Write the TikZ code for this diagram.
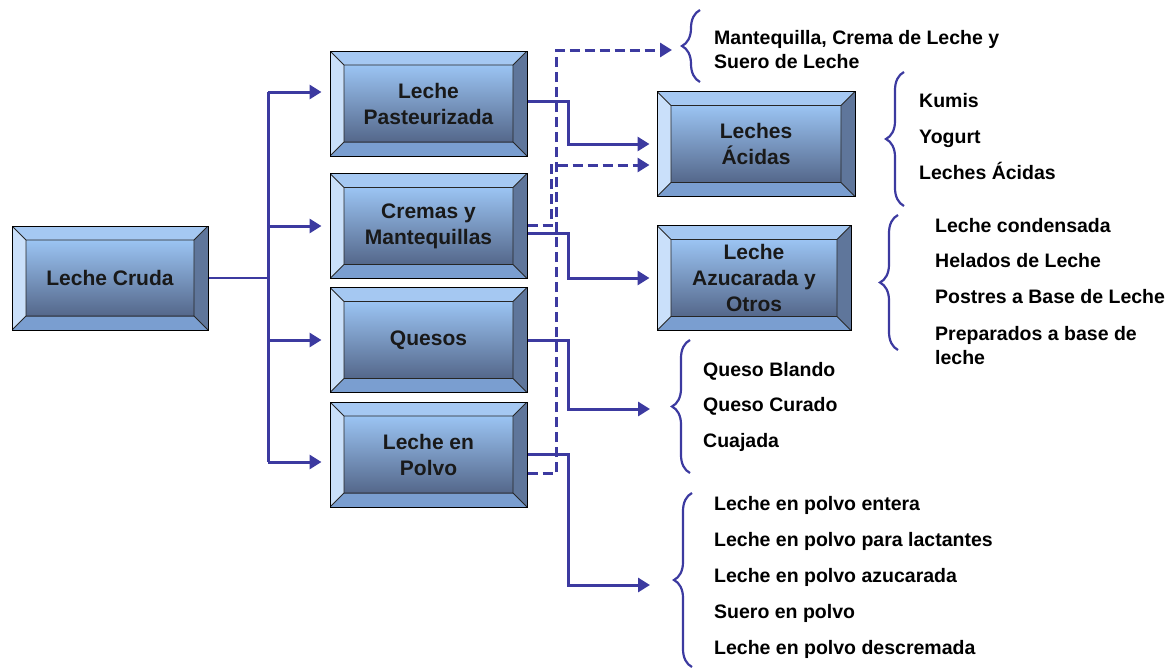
\documentclass[tikz,border=0pt]{standalone}
\usepackage{fontspec}
\setmainfont{Liberation Sans}
\usetikzlibrary{arrows.meta,calc,decorations.pathreplacing}

\definecolor{linec}{RGB}{60,58,160}
\definecolor{bvtop}{RGB}{165,200,242}
\definecolor{bvleft}{RGB}{202,224,250}
\definecolor{bvright}{RGB}{95,118,155}
\definecolor{bvbottom}{RGB}{122,158,208}
\definecolor{boxtop}{RGB}{155,196,243}
\definecolor{boxbot}{RGB}{84,103,138}
\newcommand{\boxfont}{\fontsize{21}{26}\selectfont\bfseries}
\newcommand{\itemfont}{\fontsize{19.5}{24}\selectfont\bfseries}

\begin{document}
\begin{tikzpicture}[x=1pt, y=-1pt,
  bevel/.style={draw=black, line width=1pt, minimum width=197pt, minimum height=105pt,
    align=center, font=\boxfont, text=black!90,
    path picture={
      \coordinate (bvll) at (path picture bounding box.south west);
      \coordinate (bvur) at (path picture bounding box.north east);
      \coordinate (bvul) at (path picture bounding box.north west);
      \coordinate (bvlr) at (path picture bounding box.south east);
      \coordinate (bvill) at ([shift={(14pt,14pt)}]bvll);
      \coordinate (bviur) at ([shift={(-14pt,-14pt)}]bvur);
      \coordinate (bviul) at ([shift={(14pt,-14pt)}]bvul);
      \coordinate (bvilr) at ([shift={(-14pt,14pt)}]bvlr);
      \fill[bvtop] (bvul) -- (bvur) -- (bviur) -- (bviul) -- cycle;
      \fill[bvleft] (bvul) -- (bviul) -- (bvill) -- (bvll) -- cycle;
      \fill[bvright] (bvur) -- (bvlr) -- (bvilr) -- (bviur) -- cycle;
      \fill[bvbottom] (bvll) -- (bvlr) -- (bvilr) -- (bvill) -- cycle;
      \shade[top color=boxtop, bottom color=boxbot] (bvill) rectangle (bviur);
      \draw[line width=0.8pt, black!85] (bvill) rectangle (bviur)
        (bvll) -- (bvill) (bvul) -- (bviul) (bvur) -- (bviur) (bvlr) -- (bvilr);
    }},
  conn/.style={draw=linec, line width=2.2pt},
  arr/.style={draw=linec, line width=3pt, -{Triangle[length=12pt,width=14pt]}},
  dasharr/.style={arr, dash pattern=on 10pt off 5pt},
  brc/.style={draw=linec, line width=2.2pt, decorate, decoration={brace, amplitude=18pt}},
  item/.style={anchor=west, font=\itemfont, align=left, inner sep=0pt,
    text height=14pt, text depth=4pt}]

  \useasboundingbox (0,0) rectangle (1176,670);

  % Boxes
  \node[bevel, minimum width=196pt, minimum height=104pt] (cruda) at (110,278) {Leche Cruda};
  \node[bevel] (pasteur) at (428.5,103.5) {Leche\\Pasteurizada};
  \node[bevel] (cremas) at (428.5,226) {Cremas y\\Mantequillas};
  \node[bevel] (quesos) at (428.5,340) {Quesos};
  \node[bevel] (polvo) at (428.5,454.5) {Leche en\\Polvo};
  \node[bevel, minimum width=198pt] (acidas) at (756,144) {Leches\\Ácidas};
  \node[bevel, minimum width=194pt] (azucar) at (754,278) {Leche\\Azucarada y\\Otros};

  % Trunk
  \coordinate (trunk) at (268,278);
  \coordinate (jt) at (268,92);
  \coordinate (jb) at (268,462);
  \draw[conn] (cruda.east) -- (trunk);
  \draw[conn, line width=3pt] (jt) -- (jb);
  \draw[arr, shorten >=8pt] (jt) -- (jt -| pasteur.west);
  \draw[arr, shorten >=8pt] (trunk |- cremas.west) -- (cremas.west);
  \draw[arr, shorten >=8pt] (trunk |- quesos.west) -- (quesos.west);
  \draw[arr, shorten >=8pt] (jb) -- (jb -| polvo.west);

  % Products
  \coordinate (mtip) at (672,50);
  \coordinate (qtip) at (650,409);
  \coordinate (ptip) at (650,585);
  \draw[arr, shorten >=7pt] ([yshift=2.5pt]pasteur.east) -- ++(41,0) |- (acidas.west);
  \draw[arr, shorten >=7pt] ([yshift=-7pt]cremas.east) -- ++(41,0) |- (azucar.west);
  \draw[arr] (quesos.east) -- ++(41,0) |- (qtip);
  \draw[arr] (polvo.east) -- ++(41,0) |- (ptip);
  \draw[dasharr, shorten >=7pt] ([yshift=1pt]cremas.east) -- ++(24,0) |- ([yshift=-21pt]acidas.west);
  \draw[dasharr] ([yshift=-18.5pt]polvo.east) -- ++(29,0) |- (mtip);

  % Braces
  \draw[brc] (700,82) -- (700,10);
  \draw[brc] (904,206) -- (904,72);
  \draw[brc] (898,350) -- (898,215);
  \draw[brc] (690,473) -- (690,340);
  \draw[brc] (692,667) -- (692,493);

  % Lists
  \node[item, text height=, text depth=] (mant) at (714,50) {Mantequilla, Crema de Leche y\\Suero de Leche};
  \foreach \t [count=\i] in {Kumis, Yogurt, Leches Ácidas}
    \node[item] (acid\i) at (919,66+36*\i) {\t};
  \foreach \t [count=\i] in {Leche condensada, Helados de Leche, Postres a Base de Leche}
    \node[item] (azu\i) at (935,191.3+35.7*\i) {\t};
  \node[item, text height=, text depth=] (azu4) at (935,346) {Preparados a base de\\leche};
  \foreach \t [count=\i] in {Queso Blando, Queso Curado, Cuajada}
    \node[item] (que\i) at (703,335.5+35.5*\i) {\t};
  \foreach \t [count=\i] in {Leche en polvo entera, Leche en polvo para lactantes,
      Leche en polvo azucarada, Suero en polvo, Leche en polvo descremada}
    \node[item] (pol\i) at (714,469+36*\i) {\t};
\end{tikzpicture}
\end{document}
